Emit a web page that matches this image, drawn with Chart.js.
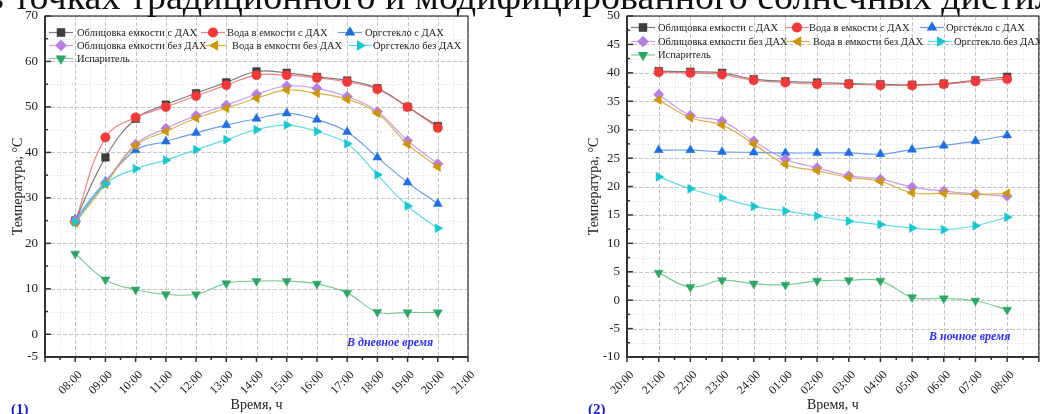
<!DOCTYPE html>
<html>
<head>
<meta charset="utf-8">
<script src="https://cdn.jsdelivr.net/npm/chart.js@4.4.1/dist/chart.umd.min.js"></script>
<style>
html, body { margin: 0; padding: 0; background: #fff; width: 1040px; height: 414px; overflow: hidden; position: relative; font-family: "Liberation Serif", "Times New Roman", serif; }
.box { position: absolute; top: 0; height: 414px; }
#box1 { left: 0; width: 520px; }
#box2 { left: 560px; width: 500px; }
#caption { position: absolute; left: -14px; top: -23px; font-size: 38px; line-height: 38px; white-space: nowrap; color: #111; z-index: 5; }
.tag { position: absolute; top: 400px; font-weight: bold; color: #1a1ad0; font-size: 15px; line-height: 18px; }
</style>
</head>
<body>
<div id="caption">в точках традиционного и модифицированного солнечных дистилляторов</div>
<div class="box" id="box1"><canvas id="dayChart"></canvas></div>
<div class="box" id="box2"><canvas id="nightChart"></canvas></div>
<div class="tag" style="left:11px">(1)</div>
<div class="tag" style="left:588px">(2)</div>
<script>
// ---- data ----
const seriesNames = [
  'Облицовка емкости с ДАХ', 'Вода в емкости с ДАХ', 'Оргстекло с ДАХ',
  'Облицовка емкости без ДАХ', 'Вода в емкости без ДАХ', 'Оргстекло без ДАХ',
  'Испаритель'
];

const dayTimes = ['08:00', '09:00', '10:00', '11:00', '12:00', '13:00', '14:00', '15:00', '16:00', '17:00', '18:00', '19:00', '20:00'];
const dayTickLabels = ['08:00', '09:00', '10:00', '11:00', '12:00', '13:00', '14:00', '15:00', '16:00', '17:00', '18:00', '19:00', '20:00', '21:00'];
const dayCladWith     = [25.0, 38.9, 47.4, 50.5, 53.0, 55.4, 57.8, 57.5, 56.6, 55.8, 54.1, 50.0, 45.8];
const dayWaterWith    = [24.8, 43.3, 47.7, 50.0, 52.4, 54.8, 57.0, 57.0, 56.4, 55.5, 53.9, 50.0, 45.4];
const dayPlexWith     = [25.3, 33.6, 40.5, 42.4, 44.3, 46.0, 47.4, 48.6, 47.2, 44.5, 38.9, 33.4, 28.7];
const dayCladWithout  = [25.0, 33.3, 41.8, 45.3, 48.1, 50.4, 52.8, 54.6, 54.1, 52.3, 49.0, 42.6, 37.5];
const dayWaterWithout = [24.5, 33.0, 41.5, 44.6, 47.5, 49.7, 51.9, 53.7, 53.0, 51.7, 48.6, 41.8, 36.8];
const dayPlexWithout  = [24.7, 33.0, 36.4, 38.3, 40.6, 42.8, 45.0, 46.0, 44.6, 41.9, 35.1, 28.2, 23.3];
const dayEvaporator   = [17.7, 12.0, 9.8, 8.8, 8.8, 11.2, 11.7, 11.7, 11.1, 9.1, 4.9, 4.8, 4.8];

const nightTimes = ['21:00', '22:00', '23:00', '24:00', '01:00', '02:00', '03:00', '04:00', '05:00', '06:00', '07:00', '08:00'];
const nightTickLabels = ['20:00', '21:00', '22:00', '23:00', '24:00', '01:00', '02:00', '03:00', '04:00', '05:00', '06:00', '07:00', '08:00'];
const nightCladWith     = [40.3, 40.2, 40.0, 38.9, 38.5, 38.3, 38.1, 38.0, 37.9, 38.1, 38.7, 39.3];
const nightWaterWith    = [40.1, 40.0, 39.7, 38.7, 38.3, 38.0, 38.0, 37.8, 37.8, 38.0, 38.5, 38.9];
const nightPlexWith     = [26.4, 26.4, 26.1, 26.0, 25.9, 25.9, 25.9, 25.7, 26.5, 27.2, 28.0, 29.0];
const nightCladWithout  = [36.2, 32.5, 31.5, 28.0, 24.8, 23.3, 21.9, 21.3, 19.9, 19.2, 18.7, 18.3];
const nightWaterWithout = [35.2, 32.1, 30.8, 27.5, 23.9, 22.8, 21.6, 20.9, 18.9, 18.8, 18.6, 18.8];
const nightPlexWithout  = [21.7, 19.6, 18.0, 16.5, 15.7, 14.8, 13.9, 13.3, 12.7, 12.4, 13.1, 14.6];
const nightEvaporator   = [4.8, 2.3, 3.5, 2.9, 2.7, 3.4, 3.5, 3.4, 0.5, 0.3, -0.1, -1.7];

// ---- styles ----
const FONT = '"Liberation Serif", "Times New Roman", serif';
const styles = [
  { marker: '#3d3d3d', line: 'rgba(90,90,90,0.8)',    pointStyle: 'rect',     rotation: 0,   radius: 5.4 },
  { marker: '#f03a3a', line: 'rgba(240,90,90,0.75)',  pointStyle: 'circle',   rotation: 0,   radius: 4.7 },
  { marker: '#1f6ee0', line: 'rgba(60,120,225,0.75)', pointStyle: 'triangle', rotation: 0,   radius: 5.2 },
  { marker: '#b77ee6', line: 'rgba(185,135,235,0.8)', pointStyle: 'rectRot',  rotation: 0,   radius: 5.2 },
  { marker: '#cc9600', line: 'rgba(210,165,50,0.85)', pointStyle: 'triangle', rotation: -90, radius: 5.2 },
  { marker: '#18c6ce', line: 'rgba(60,210,215,0.8)',  pointStyle: 'triangle', rotation: 90,  radius: 5.2 },
  { marker: '#2ea566', line: 'rgba(90,190,130,0.8)',  pointStyle: 'triangle', rotation: 180, radius: 5.2 }
];

function toPoints(times, values, night) {
  return values.map((v, i) => {
    let h = parseInt(times[i], 10);
    if (night && h < 20) h += 24;
    return { x: h, y: v };
  });
}

function makeDatasets(times, lists, night) {
  return lists.map((vals, i) => ({
    label: seriesNames[i],
    data: toPoints(times, vals, night),
    borderColor: styles[i].line,
    borderWidth: 1.2,
    backgroundColor: styles[i].marker,
    pointBackgroundColor: styles[i].marker,
    pointBorderColor: styles[i].marker,
    pointBorderWidth: 0.5,
    pointStyle: styles[i].pointStyle,
    pointRotation: styles[i].rotation,
    pointRadius: styles[i].radius,
    tension: 0.4,
    fill: false,
    order: 7 - i
  }));
}

// grid, ticks, frame, legend and note, drawn with the chart's scales
const decorPlugin = {
  id: 'decor',
  beforeDatasetsDraw(chart, args, o) {
    const { ctx, chartArea: a, scales: { x, y } } = chart;
    ctx.save();
    ctx.lineWidth = 1;
    for (let v = x.min; v <= x.max + 1e-6; v += 0.5) {
      const px = Math.round(x.getPixelForValue(v)) + 0.5;
      const major = Math.abs(v - Math.round(v)) < 1e-6;
      ctx.strokeStyle = major ? '#c4c4c4' : '#e0e0e0';
      ctx.setLineDash(major ? [4, 2] : [1, 2]);
      ctx.beginPath(); ctx.moveTo(px, a.top); ctx.lineTo(px, a.bottom); ctx.stroke();
    }
    for (let v = y.min; v <= y.max + 1e-6; v += o.yMinor) {
      const py = Math.round(y.getPixelForValue(v)) + 0.5;
      const major = Math.abs(v / o.yMajor - Math.round(v / o.yMajor)) < 1e-6;
      ctx.strokeStyle = major ? '#c4c4c4' : '#e0e0e0';
      ctx.setLineDash(major ? [4, 2] : [1, 2]);
      ctx.beginPath(); ctx.moveTo(a.left, py); ctx.lineTo(a.right, py); ctx.stroke();
    }
    ctx.restore();
  },
  afterDraw(chart, args, o) {
    const { ctx, chartArea: a, scales: { x, y } } = chart;
    ctx.save();
    ctx.setLineDash([]);
    // frame
    ctx.strokeStyle = '#333';
    ctx.lineWidth = 1.2;
    ctx.strokeRect(a.left, a.top, a.right - a.left, a.bottom - a.top);
    ctx.lineWidth = 2;
    ctx.beginPath();
    ctx.moveTo(a.left, a.top); ctx.lineTo(a.left, a.bottom); ctx.lineTo(a.right, a.bottom);
    ctx.stroke();
    // x ticks (outside)
    ctx.lineWidth = 1.5;
    for (let v = x.min; v <= x.max + 1e-6; v += 0.5) {
      const px = x.getPixelForValue(v);
      const major = Math.abs(v - Math.round(v)) < 1e-6;
      ctx.beginPath(); ctx.moveTo(px, a.bottom); ctx.lineTo(px, a.bottom + (major ? 5 : 3)); ctx.stroke();
    }
    // y ticks (inside)
    for (let v = y.min; v <= y.max + 1e-6; v += o.yMinor) {
      const py = y.getPixelForValue(v);
      const major = Math.abs(v / o.yMajor - Math.round(v / o.yMajor)) < 1e-6;
      ctx.beginPath(); ctx.moveTo(a.left, py); ctx.lineTo(a.left + (major ? 6 : 3), py); ctx.stroke();
    }
    // legend
    ctx.font = '10.5px ' + FONT;
    ctx.textBaseline = 'middle';
    ctx.textAlign = 'left';
    o.legend.forEach(item => {
      const st = styles[item.i];
      const mx = a.left + item.mx;
      const my = a.top + item.my;
      ctx.strokeStyle = st.line;
      ctx.lineWidth = 1.2;
      ctx.beginPath(); ctx.moveTo(mx - 12, my); ctx.lineTo(mx + 12, my); ctx.stroke();
      ctx.fillStyle = st.marker;
      ctx.strokeStyle = st.marker;
      Chart.helpers.drawPoint(ctx, { pointStyle: st.pointStyle, rotation: st.rotation, radius: st.radius * 0.95, borderWidth: 0.5 }, mx, my);
      ctx.fillStyle = '#222';
      ctx.fillText(seriesNames[item.i], a.left + item.tx, my + 0.5);
    });
    // note
    ctx.font = 'italic bold 12px ' + FONT;
    ctx.fillStyle = '#2f2ff5';
    ctx.fillText(o.note.text, o.note.x, o.note.y);
    ctx.restore();
  }
};

function axisFit(w, h) {
  return s => { if (w != null) s.width = w; if (h != null) s.height = h; };
}

function makeChart(id, datasets, cfg) {
  return new Chart(document.getElementById(id), {
    type: 'line',
    data: { datasets },
    options: {
      responsive: true,
      maintainAspectRatio: false,
      animation: false,
      layout: { padding: { top: 16, right: cfg.padRight, left: 0, bottom: 0 } },
      plugins: {
        legend: { display: false },
        tooltip: { enabled: false },
        decor: cfg.decor
      },
      scales: {
        x: {
          type: 'linear',
          min: cfg.xMin,
          max: cfg.xMax,
          afterFit: axisFit(null, 57),
          grid: { display: false, drawTicks: false },
          border: { display: false },
          ticks: {
            stepSize: 1,
            autoSkip: false,
            maxRotation: 45,
            minRotation: 45,
            padding: 11,
            labelOffset: 5,
            color: '#222',
            font: { family: FONT, size: 12 },
            callback: v => cfg.tickLabels[v - cfg.xMin - cfg.labelShift] || ''
          },
          title: { display: true, text: 'Время, ч', color: '#222', font: { family: FONT, size: 14 }, padding: { top: 0, bottom: 0 } }
        },
        y: {
          min: cfg.yMin,
          max: cfg.yMax,
          afterFit: axisFit(cfg.yWidth, null),
          grid: { display: false, drawTicks: false },
          border: { display: false },
          ticks: {
            stepSize: cfg.yMajor,
            padding: 7,
            color: '#222',
            font: { family: FONT, size: 13 }
          },
          title: { display: true, text: 'Температура, °C', color: '#222', font: { family: FONT, size: 14 }, padding: { top: cfg.titlePad, bottom: 0 } }
        }
      }
    },
    plugins: [decorPlugin]
  });
}

makeChart('dayChart',
  makeDatasets(dayTimes, [dayCladWith, dayWaterWith, dayPlexWith, dayCladWithout, dayWaterWithout, dayPlexWithout, dayEvaporator], false),
  {
    xMin: 7, xMax: 21, labelShift: 1, tickLabels: dayTickLabels,
    yMin: -5, yMax: 70, yMajor: 10, yWidth: 45, titlePad: 10, padRight: 52,
    decor: {
      yMajor: 10, yMinor: 5,
      legend: [
        { i: 0, mx: 16, my: 16.5, tx: 32 }, { i: 1, mx: 168, my: 16.5, tx: 182 }, { i: 2, mx: 305, my: 16.5, tx: 320 },
        { i: 3, mx: 16, my: 29.5, tx: 32 }, { i: 4, mx: 170, my: 29.5, tx: 187 }, { i: 5, mx: 315, my: 29.5, tx: 328 },
        { i: 6, mx: 16, my: 42.5, tx: 32 }
      ],
      note: { text: 'В дневное время', x: 347, y: 343 }
    }
  });

makeChart('nightChart',
  makeDatasets(nightTimes, [nightCladWith, nightWaterWith, nightPlexWith, nightCladWithout, nightWaterWithout, nightPlexWithout, nightEvaporator], true),
  {
    xMin: 20, xMax: 33, labelShift: 0, tickLabels: nightTickLabels,
    yMin: -10, yMax: 50, yMajor: 5, yWidth: 67, titlePad: 26, padRight: 10,
    decor: {
      yMajor: 5, yMinor: 2.5,
      legend: [
        { i: 0, mx: 16, my: 11.5, tx: 31 }, { i: 1, mx: 170, my: 11.5, tx: 182 }, { i: 2, mx: 305, my: 11.5, tx: 319 },
        { i: 3, mx: 16, my: 25.5, tx: 31 }, { i: 4, mx: 171, my: 25.5, tx: 186 }, { i: 5, mx: 313, my: 25.5, tx: 327 },
        { i: 6, mx: 16, my: 39, tx: 31 }
      ],
      note: { text: 'В ночное время', x: 929 - 560, y: 337 }
    }
  });
</script>
</body>
</html>
